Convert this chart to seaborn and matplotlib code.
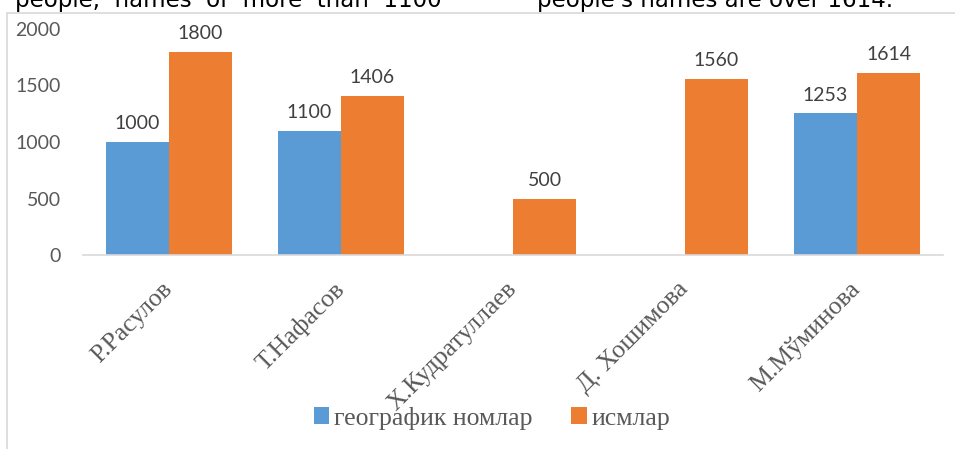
import numpy as np
import pandas as pd
import matplotlib
matplotlib.use("Agg")
import matplotlib.pyplot as plt
from matplotlib.lines import Line2D
from matplotlib.patches import Patch
import seaborn as sns

# ---- data ----
names = ["Р.Расулов", "Т.Нафасов", "Х.Кудратуллаев", "Д. Хошимова", "М.Мўминова"]
geo_names = [1000, 1100, np.nan, np.nan, 1253]
person_names = [1800, 1406, 500, 1560, 1614]
series = ["географик номлар", "исмлар"]
yticks = [0, 500, 1000, 1500, 2000]
top_text_left = "people,  names  of  more  than  1100"
top_text_right = "people's names are over 1614."

BLUE = "#5B9BD5"
ORANGE = "#ED7D31"
GRAY = "#595959"

df = pd.DataFrame({
    "name": names * 2,
    "series": [series[0]] * len(names) + [series[1]] * len(names),
    "value": list(geo_names) + list(person_names),
})

sns.set_style("white")
plt.rcParams["font.family"] = ["DejaVu Sans"]

W, H = 955, 449
fig = plt.figure(figsize=(W / 100, H / 100), dpi=100)
ax = fig.add_axes([83 / W, 1 - 255 / H, (943 - 83) / W, (255 - 29) / H])

sns.barplot(data=df, x="name", y="value", hue="series", order=names,
            hue_order=series, palette=[BLUE, ORANGE], saturation=1,
            width=0.733, gap=0, linewidth=0, errorbar=None, legend=False, ax=ax)

ax.set_xlim(-0.5, len(names) - 0.5)
ax.set_ylim(0, 2000)
ax.set_yticks(yticks)
ax.set_yticklabels([str(t) for t in yticks], family="Lato", fontsize=14, color=GRAY)
ax.set_xlabel("")
ax.set_ylabel("")
ax.tick_params(axis="y", length=0, pad=16)
ax.tick_params(axis="x", length=0, pad=22)
ax.set_xticks(range(len(names)))
ax.set_xticklabels(names, rotation=45, ha="right", va="center",
                   rotation_mode="anchor", family="Liberation Serif",
                   fontsize=18.5, color=GRAY)

for sp in ["top", "right", "left"]:
    ax.spines[sp].set_visible(False)
ax.spines["bottom"].set_color("#D9D9D9")
ax.spines["bottom"].set_linewidth(1.2)
ax.grid(False)

# value labels
for cont in ax.containers:
    for bar in cont:
        h = bar.get_height()
        if np.isfinite(h) and h > 0:
            ax.annotate(f"{h:.0f}", (bar.get_x() + bar.get_width() / 2, h),
                        xytext=(0, 7), textcoords="offset points",
                        ha="center", va="bottom", family="Lato",
                        fontsize=14, color="#404040")

# legend
handles = [Patch(facecolor=BLUE, edgecolor="none"),
           Patch(facecolor=ORANGE, edgecolor="none")]
fig.legend(handles, series, loc="center", bbox_to_anchor=(492 / W, 1 - 418 / H),
           ncol=2, frameon=False, handlelength=0.6, handleheight=0.6,
           handletextpad=0.2, columnspacing=1.5,
           prop={"family": "Liberation Serif", "size": 18.5}, labelcolor=GRAY)

# chart frame lines
fig.add_artist(Line2D([7 / W, 1], [1 - 13 / H, 1 - 13 / H], color="#D9D9D9", lw=1.2))
fig.add_artist(Line2D([7 / W, 7 / W], [0, 1 - 13 / H], color="#D9D9D9", lw=1.2))

# body text above the chart (clipped at the top edge, as in the reference)
fig.text(15 / W, 1 - 7 / H, top_text_left, ha="left", va="baseline",
         fontsize=16.5, color="black")
fig.text(537 / W, 1 - 7 / H, top_text_right, ha="left", va="baseline",
         fontsize=16.5, color="black")

fig.savefig("out.png", dpi=100)
